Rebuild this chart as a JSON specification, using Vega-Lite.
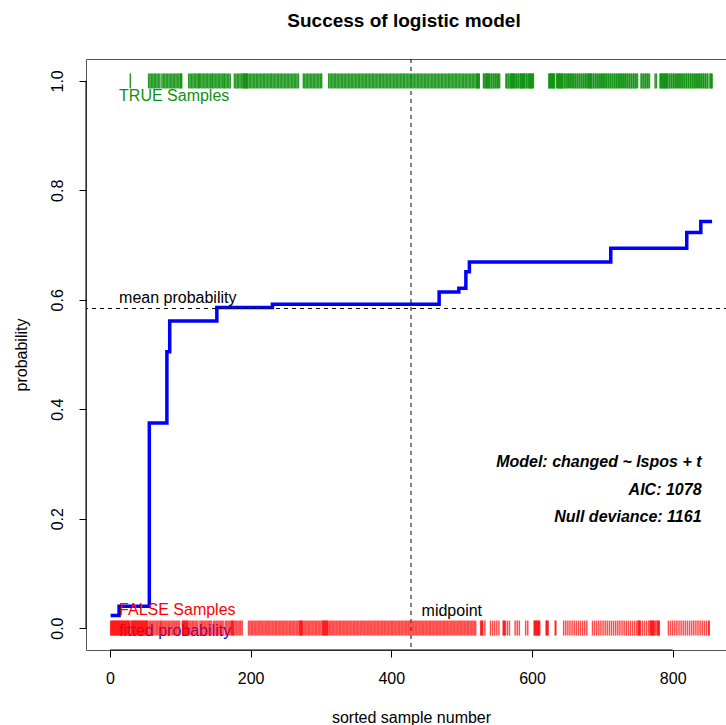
{
  "$schema": "https://vega.github.io/schema/vega-lite/v6.json",
  "width": 650,
  "height": 591,
  "autosize": "none",
  "padding": {"left": 86, "top": 59, "right": 0, "bottom": 75},
  "background": "white",
  "config": {
    "font": "Liberation Sans",
    "view": {"stroke": "#555555", "strokeWidth": 1},
    "axis": {"grid": false, "domain": false, "ticks": true, "tickColor": "black", "tickSize": 7, "labelFont": "Liberation Sans", "labelFontSize": 16, "labelColor": "black", "labelOverlap": false, "titleFont": "Liberation Sans", "titleFontSize": 16, "titleFontWeight": "normal", "titleColor": "black"},
    "axisX": {"labelPadding": 13, "titlePadding": 23, "labelFlush": false},
    "axisY": {"labelAngle": 270, "labelAlign": "center", "labelBaseline": "alphabetic", "labelPadding": 17, "titlePadding": 20}
  },
  "title": {"text": "Success of logistic model", "font": "Liberation Sans", "fontSize": 19, "fontWeight": "bold", "color": "black", "anchor": "middle", "offset": 13, "dx": -7, "baseline": "alphabetic"},
  "data": {"values": [{}]},
  "datasets": {
    "fitted": [
      {"n": 1, "p": 0.023}, {"n": 13, "p": 0.04}, {"n": 56, "p": 0.375}, {"n": 81, "p": 0.505}, {"n": 85, "p": 0.561},
      {"n": 152, "p": 0.586}, {"n": 231, "p": 0.592}, {"n": 468, "p": 0.614}, {"n": 496, "p": 0.621}, {"n": 506, "p": 0.651},
      {"n": 511, "p": 0.669}, {"n": 712, "p": 0.694}, {"n": 820, "p": 0.723}, {"n": 840, "p": 0.743}, {"n": 856, "p": 0.743}
    ],
    "falseSamples": [
      {"n":1},{"n":2},{"n":3},{"n":4},{"n":5},{"n":6},{"n":7},{"n":8},{"n":9},{"n":10},{"n":11},{"n":12},{"n":13},{"n":14},{"n":15},{"n":16},{"n":17},{"n":18},{"n":19},{"n":20},{"n":21},{"n":22},{"n":23},{"n":24},{"n":25},{"n":26},{"n":27},{"n":28},
      {"n":30},{"n":31},{"n":32},{"n":33},{"n":34},{"n":35},{"n":36},{"n":37},{"n":38},{"n":39},{"n":40},{"n":41},{"n":42},{"n":43},{"n":44},{"n":45},{"n":46},{"n":47},{"n":48},{"n":49},{"n":50},{"n":51},{"n":52},{"n":53},
      {"n":54},{"n":56},{"n":58},{"n":60},{"n":62},{"n":64},{"n":66},{"n":68},{"n":70},{"n":72},
      {"n":73},{"n":75},{"n":77},{"n":79},{"n":81},{"n":83},{"n":85},{"n":87},{"n":89},{"n":91},{"n":93},{"n":95},{"n":97},{"n":99},
      {"n":103},{"n":104},{"n":105},{"n":106},{"n":107},{"n":108},{"n":109},{"n":110},{"n":111},
      {"n":113},{"n":115},{"n":117},{"n":119},{"n":121},{"n":123},{"n":125},
      {"n":128},{"n":130},{"n":132},{"n":134},{"n":136},{"n":138},{"n":140},{"n":142},{"n":144},
      {"n":147},{"n":149},{"n":151},{"n":153},{"n":155},{"n":157},{"n":159},{"n":161},
      {"n":164},{"n":166},{"n":168},{"n":170},{"n":172},{"n":173},{"n":174},{"n":175},{"n":176},{"n":178},{"n":180},{"n":182},{"n":184},{"n":186},{"n":188},
      {"n":197},{"n":199},{"n":201},{"n":203},{"n":205},{"n":207},{"n":209},{"n":211},{"n":213},{"n":215},{"n":217},{"n":219},{"n":221},{"n":223},{"n":225},{"n":227},{"n":229},{"n":231},{"n":233},{"n":235},{"n":237},{"n":239},{"n":241},{"n":243},{"n":245},{"n":247},{"n":249},{"n":251},{"n":253},{"n":255},{"n":257},{"n":259},{"n":261},{"n":263},{"n":265},{"n":267},
      {"n":269},{"n":270},{"n":271},{"n":272},{"n":273},{"n":274},
      {"n":276},{"n":278},{"n":280},{"n":282},{"n":284},{"n":286},{"n":288},{"n":290},{"n":292},{"n":294},{"n":296},{"n":298},{"n":300},{"n":302},
      {"n":303},{"n":304},{"n":305},{"n":306},{"n":307},{"n":308},{"n":309},{"n":310},
      {"n":312},{"n":314},{"n":316},{"n":318},{"n":320},{"n":322},{"n":324},{"n":326},{"n":328},{"n":330},{"n":332},{"n":334},{"n":336},{"n":338},{"n":340},{"n":342},{"n":344},{"n":346},{"n":348},{"n":350},{"n":352},{"n":354},
      {"n":356},{"n":358},{"n":360},{"n":362},{"n":364},{"n":366},{"n":368},{"n":370},{"n":372},{"n":374},{"n":376},{"n":378},{"n":380},{"n":382},{"n":384},{"n":386},{"n":388},{"n":390},{"n":392},{"n":394},{"n":396},{"n":398},{"n":400},{"n":402},{"n":404},{"n":406},{"n":408},{"n":410},{"n":412},{"n":414},{"n":416},{"n":418},{"n":420},{"n":422},{"n":424},{"n":426},{"n":428},{"n":430},{"n":432},{"n":434},{"n":436},{"n":438},{"n":440},{"n":442},{"n":444},{"n":446},{"n":448},{"n":450},{"n":452},{"n":454},{"n":456},{"n":458},{"n":460},{"n":462},{"n":464},{"n":466},{"n":468},{"n":470},{"n":472},{"n":474},{"n":476},{"n":478},{"n":480},{"n":482},{"n":484},{"n":486},{"n":488},{"n":490},{"n":492},{"n":494},{"n":496},{"n":498},{"n":500},{"n":502},{"n":504},{"n":506},{"n":508},{"n":510},{"n":512},{"n":514},{"n":516},{"n":518},{"n":520},
      {"n":527},{"n":528},{"n":529},{"n":530},{"n":533},
      {"n":541},{"n":544},{"n":547},{"n":550},{"n":553},
      {"n":559},{"n":560},{"n":561},{"n":562},{"n":565},{"n":568},
      {"n":576},{"n":579},{"n":582},
      {"n":591},{"n":594},
      {"n":603},{"n":604},{"n":605},{"n":606},{"n":607},{"n":608},{"n":609},{"n":610},{"n":611},
      {"n":620},{"n":621},{"n":622},{"n":623},
      {"n":633},{"n":634},
      {"n":645},{"n":648},{"n":651},{"n":654},{"n":657},{"n":660},{"n":663},{"n":666},{"n":669},{"n":672},{"n":675},{"n":678},
      {"n":686},{"n":689},{"n":692},{"n":695},{"n":698},{"n":701},{"n":704},{"n":707},{"n":710},{"n":713},{"n":716},{"n":719},{"n":722},{"n":725},{"n":728},{"n":731},{"n":734},{"n":737},{"n":740},{"n":743},{"n":746},{"n":749},
      {"n":751},{"n":752},{"n":753},{"n":754},{"n":757},{"n":760},{"n":763},{"n":766},
      {"n":768},{"n":769},{"n":770},{"n":771},{"n":772},{"n":773},{"n":774},{"n":776},{"n":778},{"n":779},{"n":780},{"n":781},
      {"n":794},{"n":797},{"n":800},{"n":803},{"n":806},{"n":809},{"n":812},{"n":815},{"n":818},{"n":821},{"n":824},{"n":827},{"n":830},{"n":833},{"n":836},{"n":839},{"n":842},{"n":845},{"n":848},{"n":851},{"n":852}
    ],
    "trueSamples": [
      {"n":29},
      {"n":55},{"n":57},{"n":59},{"n":61},{"n":63},{"n":65},{"n":67},{"n":69},{"n":71},
      {"n":74},{"n":76},{"n":78},{"n":80},{"n":82},{"n":84},{"n":86},{"n":88},{"n":90},{"n":92},{"n":94},{"n":96},{"n":98},
      {"n":100},{"n":101},{"n":102},
      {"n":112},{"n":114},{"n":116},{"n":118},{"n":120},{"n":122},{"n":124},{"n":126},{"n":127},
      {"n":129},{"n":131},{"n":133},{"n":135},{"n":137},{"n":139},{"n":141},{"n":143},
      {"n":145},{"n":146},
      {"n":148},{"n":150},{"n":152},{"n":154},{"n":156},{"n":158},{"n":160},
      {"n":162},{"n":163},
      {"n":165},{"n":167},{"n":169},{"n":171},
      {"n":177},{"n":179},{"n":181},{"n":183},{"n":185},{"n":187},
      {"n":189},{"n":190},{"n":191},{"n":192},{"n":193},{"n":194},{"n":195},{"n":196},
      {"n":198},{"n":200},{"n":202},{"n":204},{"n":206},{"n":208},{"n":210},{"n":212},{"n":214},{"n":216},{"n":218},{"n":220},{"n":222},{"n":224},{"n":226},{"n":228},{"n":230},{"n":232},{"n":234},{"n":236},{"n":238},{"n":240},{"n":242},{"n":244},{"n":246},{"n":248},{"n":250},{"n":252},{"n":254},{"n":256},{"n":258},{"n":260},{"n":262},{"n":264},{"n":266},{"n":268},
      {"n":275},{"n":277},{"n":279},{"n":281},{"n":283},{"n":285},{"n":287},{"n":289},{"n":291},{"n":293},{"n":295},{"n":297},{"n":299},{"n":301},
      {"n":311},{"n":313},{"n":315},{"n":317},{"n":319},{"n":321},{"n":323},{"n":325},{"n":327},{"n":329},{"n":331},{"n":333},{"n":335},{"n":337},{"n":339},{"n":341},{"n":343},{"n":345},{"n":347},{"n":349},{"n":351},{"n":353},{"n":355},
      {"n":357},{"n":359},{"n":361},{"n":363},{"n":365},{"n":367},{"n":369},{"n":371},{"n":373},{"n":375},{"n":377},{"n":379},{"n":381},{"n":383},{"n":385},{"n":387},{"n":389},{"n":391},{"n":393},{"n":395},{"n":397},{"n":399},{"n":401},{"n":403},{"n":405},{"n":407},{"n":409},{"n":411},{"n":413},{"n":415},{"n":417},{"n":419},{"n":421},{"n":423},{"n":425},{"n":427},{"n":429},{"n":431},{"n":433},{"n":435},{"n":437},{"n":439},{"n":441},{"n":443},{"n":445},{"n":447},{"n":449},{"n":451},{"n":453},{"n":455},{"n":457},{"n":459},{"n":461},{"n":463},{"n":465},{"n":467},{"n":469},{"n":471},{"n":473},{"n":475},{"n":477},{"n":479},{"n":481},{"n":483},{"n":485},{"n":487},{"n":489},{"n":491},{"n":493},{"n":495},{"n":497},{"n":499},{"n":501},{"n":503},{"n":505},{"n":507},{"n":509},{"n":511},{"n":513},{"n":515},{"n":517},{"n":519},{"n":521},
      {"n":522},{"n":523},{"n":524},{"n":525},
      {"n":531},{"n":532},{"n":534},{"n":535},{"n":536},{"n":537},{"n":538},{"n":539},{"n":540},
      {"n":542},{"n":543},{"n":545},{"n":546},{"n":548},{"n":549},{"n":551},{"n":552},{"n":554},
      {"n":563},{"n":564},{"n":566},{"n":567},{"n":569},{"n":570},{"n":571},{"n":572},{"n":573},{"n":574},{"n":575},
      {"n":577},{"n":578},{"n":580},{"n":581},{"n":583},{"n":584},{"n":585},{"n":586},{"n":587},{"n":588},{"n":589},{"n":590},
      {"n":592},{"n":593},{"n":595},{"n":596},{"n":597},{"n":598},{"n":599},{"n":600},{"n":601},{"n":602},
      {"n":624},{"n":625},{"n":626},{"n":627},{"n":628},{"n":629},{"n":630},{"n":631},{"n":632},
      {"n":635},{"n":636},{"n":637},{"n":638},{"n":639},{"n":640},{"n":641},{"n":642},{"n":643},{"n":644},
      {"n":646},{"n":647},{"n":649},{"n":650},{"n":652},{"n":653},{"n":655},{"n":656},{"n":658},{"n":659},{"n":661},{"n":662},{"n":664},{"n":665},{"n":667},{"n":668},{"n":670},{"n":671},{"n":673},{"n":674},{"n":676},{"n":677},{"n":679},
      {"n":680},{"n":681},{"n":682},{"n":683},{"n":684},{"n":685},
      {"n":687},{"n":688},{"n":690},{"n":691},{"n":693},{"n":694},{"n":696},{"n":697},{"n":699},{"n":700},{"n":702},{"n":703},{"n":705},{"n":706},{"n":708},{"n":709},{"n":711},{"n":712},{"n":714},{"n":715},{"n":717},{"n":718},{"n":720},{"n":721},{"n":723},{"n":724},{"n":726},{"n":727},{"n":729},{"n":730},{"n":732},{"n":733},{"n":735},{"n":736},{"n":738},{"n":739},{"n":741},{"n":742},{"n":744},{"n":745},{"n":747},{"n":748},{"n":750},
      {"n":755},{"n":756},{"n":758},{"n":759},{"n":761},{"n":762},{"n":764},{"n":765},{"n":767},
      {"n":775},{"n":777},
      {"n":782},{"n":783},{"n":784},{"n":785},{"n":786},{"n":787},{"n":788},{"n":789},{"n":790},{"n":791},{"n":792},{"n":793},
      {"n":795},{"n":796},{"n":798},{"n":799},{"n":801},{"n":802},{"n":804},{"n":805},{"n":807},{"n":808},{"n":810},{"n":811},{"n":813},{"n":814},{"n":816},{"n":817},{"n":819},{"n":820},{"n":822},{"n":823},{"n":825},{"n":826},{"n":828},{"n":829},{"n":831},{"n":832},{"n":834},{"n":835},{"n":837},{"n":838},{"n":840},{"n":841},{"n":843},{"n":844},{"n":846},{"n":847},{"n":849},{"n":850},
      {"n":853},{"n":854},{"n":855},{"n":856}
    ]
  },
  "layer": [
    {
      "data": {"name": "fitted"},
      "mark": {"type": "line", "interpolate": "step-after", "color": "#0000ff", "strokeWidth": 3.5},
      "encoding": {
        "x": {"field": "n", "type": "quantitative", "title": "sorted sample number", "scale": {"domain": [-34, 890], "nice": false, "zero": false},
          "axis": {"values": [0, 200, 400, 600, 800]}},
        "y": {"field": "p", "type": "quantitative", "title": "probability", "scale": {"domain": [-0.04, 1.04], "nice": false, "zero": false},
          "axis": {"values": [0, 0.2, 0.4, 0.6, 0.8, 1.0], "format": ".1f"}}
      }
    },
    {
      "mark": {"type": "rule", "color": "black", "strokeWidth": 1},
      "encoding": {"x": {"datum": 0, "type": "quantitative", "title": "sorted sample number"}, "x2": {"datum": 800}, "y": {"datum": -0.04, "type": "quantitative", "title": "probability"}}
    },
    {
      "mark": {"type": "rule", "color": "black", "strokeWidth": 1},
      "encoding": {"x": {"datum": -34, "type": "quantitative", "title": "sorted sample number"}, "y": {"datum": 0, "type": "quantitative", "title": "probability"}, "y2": {"datum": 1}}
    },
    {
      "mark": {"type": "rule", "color": "black", "strokeWidth": 1, "strokeDash": [4, 4]},
      "encoding": {"x": {"datum": 428, "type": "quantitative", "title": "sorted sample number"}}
    },
    {
      "mark": {"type": "rule", "color": "black", "strokeWidth": 1, "strokeDash": [4, 4]},
      "encoding": {"y": {"datum": 0.584, "type": "quantitative", "title": "probability"}}
    },
    {
      "mark": {"type": "text", "text": "TRUE Samples", "align": "left", "baseline": "middle", "fontSize": 16, "font": "Liberation Sans", "color": "#119111"},
      "encoding": {"x": {"datum": 13, "type": "quantitative", "title": "sorted sample number"}, "y": {"datum": 0.972, "type": "quantitative", "title": "probability"}}
    },
    {
      "mark": {"type": "text", "text": "mean probability", "align": "left", "baseline": "middle", "fontSize": 16, "font": "Liberation Sans", "color": "black"},
      "encoding": {"x": {"datum": 13, "type": "quantitative", "title": "sorted sample number"}, "y": {"datum": 0.603, "type": "quantitative", "title": "probability"}}
    },
    {
      "mark": {"type": "text", "text": "FALSE Samples", "align": "left", "baseline": "middle", "fontSize": 16, "font": "Liberation Sans", "color": "#ff0000"},
      "encoding": {"x": {"datum": 13, "type": "quantitative", "title": "sorted sample number"}, "y": {"datum": 0.034, "type": "quantitative", "title": "probability"}}
    },
    {
      "mark": {"type": "text", "text": "fitted probability", "align": "left", "baseline": "middle", "fontSize": 16, "font": "Liberation Sans", "color": "#0000ff"},
      "encoding": {"x": {"datum": 13, "type": "quantitative", "title": "sorted sample number"}, "y": {"datum": -0.006, "type": "quantitative", "title": "probability"}}
    },
    {
      "mark": {"type": "text", "text": "midpoint", "align": "left", "baseline": "middle", "fontSize": 16, "font": "Liberation Sans", "color": "black"},
      "encoding": {"x": {"datum": 443, "type": "quantitative", "title": "sorted sample number"}, "y": {"datum": 0.032, "type": "quantitative", "title": "probability"}}
    },
    {
      "mark": {"type": "text", "text": "Model: changed ~ lspos + t", "align": "right", "baseline": "middle", "fontSize": 16, "font": "Liberation Sans", "fontWeight": "bold", "fontStyle": "italic", "color": "black"},
      "encoding": {"x": {"datum": 841, "type": "quantitative", "title": "sorted sample number"}, "y": {"datum": 0.304, "type": "quantitative", "title": "probability"}}
    },
    {
      "mark": {"type": "text", "text": "AIC: 1078", "align": "right", "baseline": "middle", "fontSize": 16, "font": "Liberation Sans", "fontWeight": "bold", "fontStyle": "italic", "color": "black"},
      "encoding": {"x": {"datum": 841, "type": "quantitative", "title": "sorted sample number"}, "y": {"datum": 0.252, "type": "quantitative", "title": "probability"}}
    },
    {
      "mark": {"type": "text", "text": "Null deviance: 1161", "align": "right", "baseline": "middle", "fontSize": 16, "font": "Liberation Sans", "fontWeight": "bold", "fontStyle": "italic", "color": "black"},
      "encoding": {"x": {"datum": 841, "type": "quantitative", "title": "sorted sample number"}, "y": {"datum": 0.203, "type": "quantitative", "title": "probability"}}
    },
    {
      "data": {"name": "trueSamples"},
      "mark": {"type": "tick", "orient": "vertical", "size": 15, "thickness": 1.5, "color": "#119111", "opacity": 0.9},
      "encoding": {"x": {"field": "n", "type": "quantitative", "title": "sorted sample number"}, "y": {"datum": 1, "type": "quantitative", "title": "probability"}}
    },
    {
      "data": {"name": "falseSamples"},
      "mark": {"type": "tick", "orient": "vertical", "size": 15, "thickness": 1.5, "color": "#ff0000", "opacity": 0.7},
      "encoding": {"x": {"field": "n", "type": "quantitative", "title": "sorted sample number"}, "y": {"datum": 0, "type": "quantitative", "title": "probability"}}
    }
  ]
}
